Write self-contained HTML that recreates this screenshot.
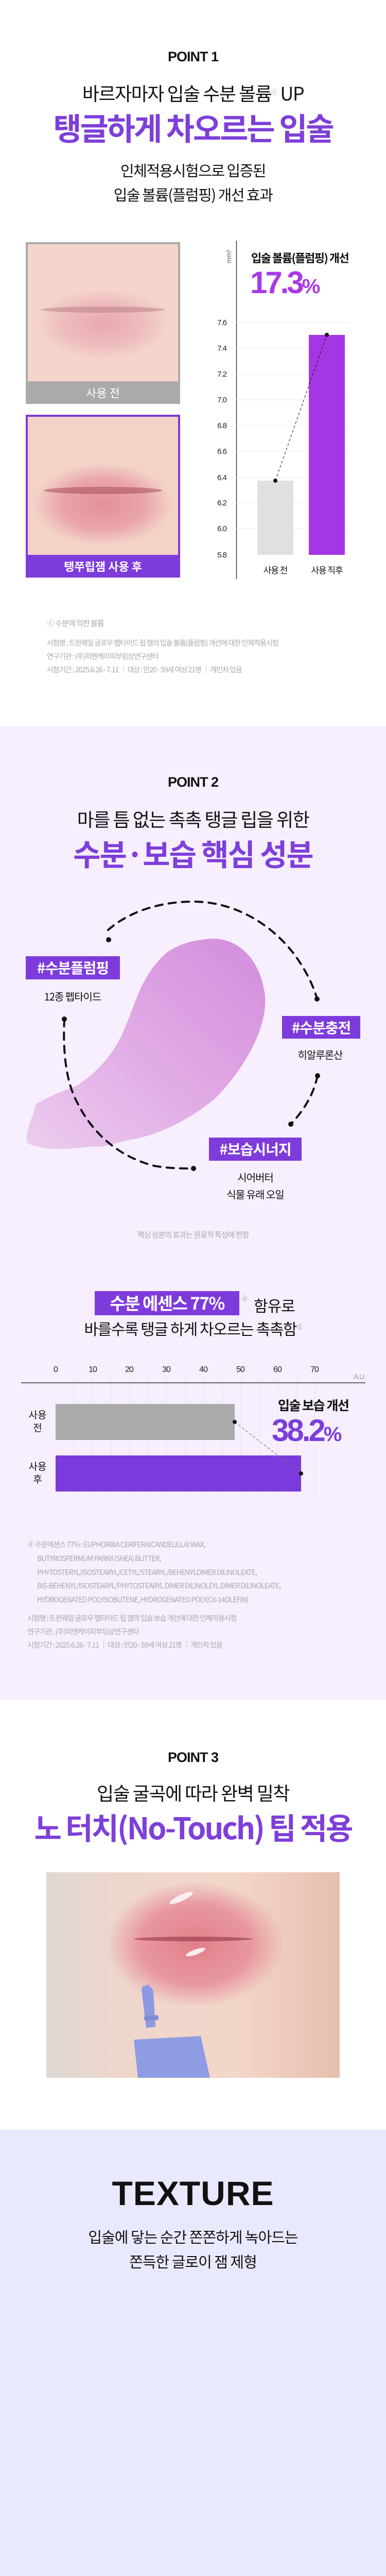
<!DOCTYPE html>
<html><head><meta charset="utf-8">
<style>
*{margin:0;padding:0;box-sizing:border-box}
html{width:750px;height:5050px;overflow:hidden}
body{width:750px;height:5050px;position:relative;background:#fff;font-family:"Liberation Sans","Noto Sans CJK KR",sans-serif;color:#111;overflow:hidden}
.a{position:absolute;white-space:nowrap}
.c{position:absolute;left:0;width:750px;text-align:center;white-space:nowrap}
.kr{font-family:"Noto Sans CJK KR","Liberation Sans",sans-serif}
.pt{font-family:"Liberation Sans",sans-serif;font-weight:bold;font-size:27px;letter-spacing:-1px;line-height:32px}
.pur{color:#7e3fd9;font-weight:bold}
.tag{position:absolute;background:#7e3bdb;color:#fff;font-weight:bold;font-size:28px;text-align:center;line-height:44px;letter-spacing:-1px}
.g{color:#a8a8a8}
sup{line-height:0}
</style></head><body>

<!-- SECTION 1 -->
<div class="c pt" style="top:94px">POINT 1</div>
<div class="c kr" style="top:158px;font-size:36px;line-height:44px;letter-spacing:-1.5px">바르자마자 입술 수분 볼륨<sup style="font-size:12px;color:#999">ⓒ</sup> UP</div>
<div class="c kr pur" style="top:212px;font-size:60px;line-height:70px;letter-spacing:-3px;color:#7e3fd9">탱글하게 차오르는 입술</div>
<div class="c kr" style="top:312px;font-size:29px;line-height:36px;letter-spacing:-1.5px">인체적용시험으로 입증된</div>
<div class="c kr" style="top:359px;font-size:29px;line-height:36px;letter-spacing:-1.5px">입술 볼륨(플럼핑) 개선 효과</div>

<!-- photo 1 -->
<div class="a" style="left:50px;top:470px;width:300px;height:314px;background:#aaa"></div>
<div class="a" style="left:54px;top:474px;width:292px;height:266px;background:radial-gradient(ellipse 130px 70px at 146px 155px,#e8a9ae 0%,#eebcbd 60%,rgba(242,210,200,0) 100%),#f4d5cb"></div>
<div class="a" style="left:80px;top:595px;width:240px;height:12px;border-radius:50%;background:#b77a80;opacity:.5"></div>
<div class="c kr" style="left:50px;width:300px;top:745px;font-size:22px;line-height:34px;color:#fff">사용 전</div>

<!-- photo 2 -->
<div class="a" style="left:50px;top:805px;width:300px;height:316px;background:#7e3bdb"></div>
<div class="a" style="left:54px;top:809px;width:292px;height:268px;background:radial-gradient(ellipse 135px 80px at 146px 170px,#e58e98 0%,#eaa5ab 60%,rgba(242,210,200,0) 100%),#f3d3c8"></div>
<div class="a" style="left:85px;top:945px;width:230px;height:14px;border-radius:50%;background:#a0434f;opacity:.5"></div>
<div class="c kr" style="left:50px;width:300px;top:1082px;font-size:22px;line-height:34px;color:#fff;font-weight:bold">탱쭈립잼 사용 후</div>

<!-- chart 1 -->
<svg class="a" style="left:0;top:0" width="750" height="1420">
<line x1="459.5" y1="467" x2="459.5" y2="1124" stroke="#111" stroke-width="1.2"/>
<g stroke="#eee" stroke-width="1">
<line x1="450" y1="626" x2="680" y2="626"/><line x1="450" y1="676" x2="680" y2="676"/><line x1="450" y1="726" x2="680" y2="726"/><line x1="450" y1="776" x2="680" y2="776"/><line x1="450" y1="826" x2="680" y2="826"/><line x1="450" y1="876" x2="680" y2="876"/><line x1="450" y1="927" x2="680" y2="927"/><line x1="450" y1="976" x2="680" y2="976"/><line x1="450" y1="1026" x2="680" y2="1026"/>
</g>
<g font-family="Liberation Sans" font-size="15" fill="#222" text-anchor="end" letter-spacing="-1">
<text x="440" y="631">7.6</text><text x="440" y="681">7.4</text><text x="440" y="731">7.2</text><text x="440" y="781">7.0</text><text x="440" y="831">6.8</text><text x="440" y="881">6.6</text><text x="440" y="932">6.4</text><text x="440" y="981">6.2</text><text x="440" y="1031">6.0</text><text x="440" y="1082">5.8</text>
</g>
<text x="0" y="0" transform="translate(449,498) rotate(-90)" font-family="Liberation Sans" font-size="13" fill="#666" text-anchor="middle">mm³</text>
<rect x="500" y="933" width="70" height="144" fill="#e0e0e0"/>
<rect x="600" y="650" width="70" height="427" fill="#a436e3"/>
<line x1="535" y1="933" x2="635" y2="650" stroke="#111" stroke-width="1" stroke-dasharray="5,4"/>
<circle cx="535" cy="933" r="4" fill="#111"/><circle cx="635" cy="650" r="4" fill="#111"/>
</svg>
<div class="a kr" style="left:488px;top:485px;font-size:22px;line-height:30px;font-weight:bold;letter-spacing:-1.5px">입술 볼륨(플럼핑) 개선</div>
<div class="a" style="left:486px;top:514px;font-size:60px;line-height:70px;font-weight:bold;letter-spacing:-4px;color:#a83ae6">17.3<span style="font-size:40px">%</span></div>
<div class="a kr" style="left:500px;width:70px;text-align:center;top:1093px;font-size:17px;line-height:26px;letter-spacing:-1px">사용 전</div>
<div class="a kr" style="left:595px;width:80px;text-align:center;top:1093px;font-size:17px;line-height:26px;letter-spacing:-1px">사용 직후</div>

<div class="a kr g" style="left:91px;top:1200px;font-size:15px;line-height:20px;letter-spacing:-1px">ⓒ 수분에 의한 볼륨</div>
<div class="a kr g" style="left:91px;top:1238px;font-size:14px;line-height:20px;letter-spacing:-1px">시험명 : 트윈웨일 글로우 펩타이드 립 잼의 입술 볼륨(플럼핑) 개선에 대한 인체적용시험</div>
<div class="a kr g" style="left:91px;top:1264px;font-size:14px;line-height:20px;letter-spacing:-1px">연구기관 : (주)피엔케이피부임상연구센타</div>
<div class="a kr g" style="left:91px;top:1290px;font-size:14px;line-height:20px;letter-spacing:-1px">시험기간 : 2025.6.26 - 7.11 ｜ 대상 : 만20 - 59세 여성 21명 ｜ 개인차 있음</div>

<!-- SECTION 2 -->
<div class="a" style="left:0;top:1409px;width:750px;height:1891px;background:#f7effd"></div>
<div class="c pt" style="top:1502px">POINT 2</div>
<div class="c kr" style="top:1567px;font-size:36px;line-height:44px;letter-spacing:-1.5px">마를 틈 없는 촉촉 탱글 립을 위한</div>
<div class="c kr pur" style="top:1620px;font-size:58px;line-height:70px;letter-spacing:-2px">수분·보습 핵심 성분</div>

<svg class="a" style="left:0;top:1700px" width="750" height="600">
<defs><linearGradient id="bl" x1="1" y1="0" x2="0" y2="1"><stop offset="0" stop-color="#d38ddc"/><stop offset=".5" stop-color="#e0a9e4"/><stop offset="1" stop-color="#ecccef"/></linearGradient></defs>
<path d="M400 123 C450 115 505 150 515 233 C520 300 470 380 417 433 C360 480 300 505 250 513 C220 520 200 528 180 525 C140 530 90 535 55 520 C45 505 60 480 70 443 C100 425 130 415 150 407 C190 380 215 350 233 317 C255 270 265 230 283 200 C300 170 320 150 333 143 C355 130 380 125 400 123 Z" fill="url(#bl)"/>
<path d="M210 105 C250 70 310 50 375 50 C470 50 550 110 590 180 C605 205 612 225 616 238" fill="none" stroke="#111" stroke-width="4" stroke-dasharray="14,12" stroke-linecap="round"/>
<circle cx="211" cy="124" r="5" fill="#111"/><circle cx="616" cy="239" r="5" fill="#111"/>
<path d="M125 278 C122 340 128 400 150 440 C180 500 230 545 300 563 C330 568 355 568 376 568" fill="none" stroke="#111" stroke-width="4" stroke-dasharray="14,12" stroke-linecap="round"/>
<circle cx="125" cy="278" r="5" fill="#111"/><circle cx="376" cy="568" r="5" fill="#111"/>
<path d="M617 388 C610 420 595 450 565 482" fill="none" stroke="#111" stroke-width="4" stroke-dasharray="14,12" stroke-linecap="round"/>
<circle cx="617" cy="388" r="5" fill="#111"/><circle cx="565" cy="482" r="5" fill="#111"/>
</svg>

<div class="tag kr" style="left:50px;top:1856px;width:183px;height:45px">#수분플럼핑</div>
<div class="a kr" style="left:41px;width:200px;text-align:center;top:1920px;font-size:20px;line-height:28px;letter-spacing:-1px">12종 펩타이드</div>
<div class="tag kr" style="left:548px;top:1972px;width:152px;height:44px">#수분충전</div>
<div class="a kr" style="left:522px;width:200px;text-align:center;top:2033px;font-size:20px;line-height:28px;letter-spacing:-1px">히알루론산</div>
<div class="tag kr" style="left:406px;top:2208px;width:180px;height:45px">#보습시너지</div>
<div class="a kr" style="left:396px;width:200px;text-align:center;top:2271px;font-size:20px;line-height:28px;letter-spacing:-1px">시어버터</div>
<div class="a kr" style="left:396px;width:200px;text-align:center;top:2304px;font-size:20px;line-height:28px;letter-spacing:-1px">식물 유래 오일</div>
<div class="c kr g" style="top:2386px;font-size:15px;line-height:22px;letter-spacing:-1px">핵심 성분의 효과는 원료적 특성에 한함</div>

<div class="a" style="left:184px;top:2506px;width:281px;height:47px;background:#7e3bdb"></div>
<div class="a kr" style="left:184px;width:281px;text-align:center;top:2505px;font-size:33px;line-height:46px;color:#fff;font-weight:bold;letter-spacing:-1.5px">수분 에센스 77%</div>
<div class="a kr" style="left:469px;top:2512px;font-size:12px;color:#999">ⓓ</div>
<div class="a kr" style="left:493px;top:2513px;font-size:30px;line-height:40px;letter-spacing:-1px">함유로</div>
<div class="c kr" style="top:2558px;font-size:30px;line-height:40px;letter-spacing:-1.5px">바를수록 탱글 하게 차오르는 촉촉함<sup style="font-size:12px;color:#999">②</sup></div>

<svg class="a" style="left:0;top:2600px" width="750" height="320">
<g stroke="#e6e0ec" stroke-width="1">
<line x1="144" y1="73" x2="144" y2="305"/><line x1="180" y1="73" x2="180" y2="305"/><line x1="216" y1="73" x2="216" y2="305"/><line x1="252" y1="73" x2="252" y2="305"/><line x1="288" y1="73" x2="288" y2="305"/><line x1="324" y1="73" x2="324" y2="305"/><line x1="360" y1="73" x2="360" y2="305"/><line x1="396" y1="73" x2="396" y2="305"/><line x1="432" y1="73" x2="432" y2="305"/><line x1="468" y1="73" x2="468" y2="305"/><line x1="504" y1="73" x2="504" y2="305"/><line x1="540" y1="73" x2="540" y2="305"/><line x1="576" y1="73" x2="576" y2="305"/><line x1="611" y1="73" x2="611" y2="305"/>
</g>
<line x1="41" y1="84" x2="710" y2="84" stroke="#111" stroke-width="1.3"/>
<g font-family="Liberation Sans" font-size="16" fill="#222" text-anchor="middle" letter-spacing="-1">
<text x="108" y="63">0</text><text x="180" y="63">10</text><text x="251" y="63">20</text><text x="323" y="63">30</text><text x="395" y="63">40</text><text x="467" y="63">50</text><text x="539" y="63">60</text><text x="611" y="63">70</text>
</g>
<text x="710" y="77" font-family="Liberation Sans" font-size="14" fill="#999" text-anchor="end" letter-spacing="-1">A.U.</text>
<rect x="108" y="125" width="348" height="70" fill="#aaa"/>
<rect x="108" y="225" width="477" height="70" fill="#7b3adb"/>
<line x1="456" y1="160" x2="585" y2="260" stroke="#666" stroke-width="1" stroke-dasharray="5,4"/>
<circle cx="456" cy="160" r="4" fill="#111"/><circle cx="585" cy="260" r="4" fill="#111"/>
</svg>
<div class="a kr" style="left:50px;width:46px;text-align:center;top:2733px;font-size:19px;line-height:25px">사용<br>전</div>
<div class="a kr" style="left:50px;width:46px;text-align:center;top:2833px;font-size:19px;line-height:25px">사용<br>후</div>
<div class="a kr" style="left:540px;top:2710px;font-size:25px;line-height:34px;font-weight:bold;letter-spacing:-1.5px">입술 보습 개선</div>
<div class="a" style="left:528px;top:2742px;font-size:60px;line-height:70px;font-weight:bold;letter-spacing:-4px;color:#7b3fd9">38.2<span style="font-size:40px">%</span></div>

<div class="a kr g" style="left:53px;top:2985px;font-size:14px;line-height:26.8px;letter-spacing:-1px">ⓓ 수분에센스 77% : EUPHORBIA CERIFERA(CANDELILLA) WAX,<br><span style="padding-left:19px">BUTYROSPERMUM PARKII (SHEA) BUTTER,</span><br><span style="padding-left:19px">PHYTOSTERYL/ISOSTEARYL/CETYL/STEARYL/BEHENYLDIMER DILINOLEATE,</span><br><span style="padding-left:19px">BIS-BEHENYL/ISOSTEARYL/PHYTOSTEARYL DIMER DILINOLEYL DIMER DILINOLEATE,</span><br><span style="padding-left:19px">HYDROGENATED POLYISOBUTENE, HYDROGENATED POLY(C6-14OLEFIN)</span></div>
<div class="a kr g" style="left:53px;top:3128px;font-size:14px;line-height:26px;letter-spacing:-1px">시험명 : 트윈웨일 글로우 펩타이드 립 잼의 입술 보습 개선에 대한 인체적용시험<br>연구기관 : (주)피엔케이피부임상연구센타<br>시험기간 : 2025.6.26 - 7.11 ｜ 대상 : 만20 - 59세 여성 21명 ｜ 개인차 있음</div>

<!-- SECTION 3 -->
<div class="c pt" style="top:3395px">POINT 3</div>
<div class="c kr" style="top:3457px;font-size:36px;line-height:44px;letter-spacing:-1.5px">입술 굴곡에 따라 완벽 밀착</div>
<div class="c kr pur" style="top:3510px;font-size:58px;line-height:70px;letter-spacing:-3px">노 터치(No-Touch) 팁 적용</div>

<div class="a" style="left:90px;top:3634px;width:570px;height:399px;overflow:hidden;background:linear-gradient(90deg,#ddd8d3 0%,#eed6cc 25%,#f3d6ca 65%,#e6bfae 100%)">
<div class="a" style="left:120px;top:20px;width:340px;height:240px;border-radius:50%;background:radial-gradient(ellipse at 50% 50%,#e17f8a 0%,#e8979f 45%,rgba(240,205,195,0) 72%)"></div>
<div class="a" style="left:170px;top:125px;width:230px;height:9px;border-radius:50%;background:#8c2f3c;opacity:.55"></div>
<div class="a" style="left:237px;top:44px;width:50px;height:12px;border-radius:50%;background:#fff;opacity:.8;transform:rotate(-25deg)"></div>
<div class="a" style="left:270px;top:150px;width:40px;height:10px;border-radius:50%;background:#fff;opacity:.85;transform:rotate(-20deg)"></div>
<svg class="a" style="left:0;top:0" width="570" height="399">
<path d="M186 222 L200 218 L206 262 L196 266 Z" fill="#8f9de6"/>
<path d="M185 228 C190 218 205 218 208 232 L212 300 L194 302 Z" fill="#8d9ae2"/>
<rect x="190" y="278" width="28" height="10" rx="4" fill="#7f8dd8" transform="rotate(-4 204 283)"/>
<path d="M170 325 L300 318 L318 399 L178 399 Z" fill="#8e9ce3"/>
</svg>
</div>

<!-- TEXTURE -->
<div class="a" style="left:0;top:4134px;width:750px;height:916px;background:#e9e9fd"></div>
<div class="c" style="top:4222px;font-size:66px;line-height:70px;font-weight:bold;letter-spacing:1px">TEXTURE</div>
<div class="c kr" style="top:4321px;font-size:29px;line-height:40px;letter-spacing:-1px">입술에 닿는 순간 쫀쫀하게 녹아드는</div>
<div class="c kr" style="top:4369px;font-size:29px;line-height:40px;letter-spacing:-1px">쫀득한 글로이 잼 제형</div>

</body></html>
